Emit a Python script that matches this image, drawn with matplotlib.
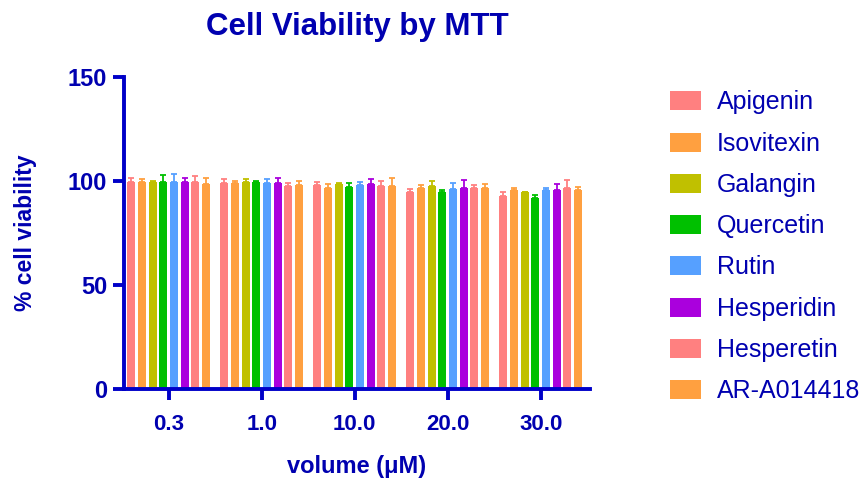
import matplotlib
matplotlib.use("Agg")
import matplotlib.pyplot as plt
import numpy as np

plt.rcParams['font.family'] = ['Liberation Sans', 'DejaVu Sans']

doses = ['0.3', '1.0', '10.0', '20.0', '30.0']
compounds = ['Apigenin', 'Isovitexin', 'Galangin', 'Quercetin',
             'Rutin', 'Hesperidin', 'Hesperetin', 'AR-A014418']
colors = ['#FF8080', '#FFA040', '#C0C000', '#00C000',
          '#56A0FF', '#AA00DD', '#FF8080', '#FFA040']

# mean viability per compound, one value per dose
means = [
    [99.7, 99.2, 97.9, 94.7, 92.9],   # Apigenin
    [99.6, 98.8, 96.6, 96.6, 95.5],   # Isovitexin
    [99.7, 99.4, 98.7, 97.6, 94.5],   # Galangin
    [99.7, 99.3, 97.1, 94.5, 91.6],   # Quercetin
    [99.7, 99.2, 98.1, 96.3, 95.5],   # Rutin
    [99.5, 98.9, 98.4, 96.8, 95.7],   # Hesperidin
    [99.5, 97.6, 97.6, 96.8, 96.8],   # Hesperetin
    [98.6, 97.9, 97.8, 96.6, 95.7],   # AR-A014418
]
errs = [
    [1.8, 1.6, 1.6, 1.4, 1.6],
    [1.6, 1.4, 1.8, 1.4, 1.0],
    [0.3, 1.4, 0.3, 2.4, 0.2],
    [3.4, 0.5, 1.8, 1.4, 1.9],
    [3.7, 1.6, 1.3, 2.6, 1.1],
    [1.8, 2.7, 2.6, 3.7, 2.9],
    [2.7, 1.3, 2.6, 1.4, 3.7],
    [2.7, 2.1, 3.7, 1.9, 1.4],
]

navy = '#0000B0'
axis_col = '#0000C8'

fig = plt.figure(figsize=(8.64, 4.79), dpi=100)
ax = fig.add_axes([124/864, 1-389/479, (590-124)/864, (389-77)/479])

x = np.arange(len(doses))
pitch = 0.115
width = 0.086
for i, name in enumerate(compounds):
    pos = x + (i - 3.5) * pitch
    ax.bar(pos, means[i], width, color=colors[i], label=name,
           edgecolor='none', zorder=2)
    ax.errorbar(pos, means[i], yerr=[np.zeros(len(doses)), errs[i]],
                fmt='none', ecolor=colors[i], elinewidth=1.3,
                capsize=2.5, capthick=1.3, zorder=3)

ax.set_xlim(-0.48, 4.53)
ax.set_ylim(0, 150)
ax.set_yticks([0, 50, 100, 150])
ax.set_xticks(x)
ax.set_xticklabels(doses)

for s in ['top', 'right']:
    ax.spines[s].set_visible(False)
for s in ['left', 'bottom']:
    ax.spines[s].set_color(axis_col)
    ax.spines[s].set_linewidth(2.8)
ax.tick_params(axis='both', colors=axis_col, width=2.8, length=8,
               labelcolor=navy, pad=4)
ax.tick_params(axis='y', labelsize=17)
ax.tick_params(axis='x', labelsize=16, pad=10)
for lab in ax.get_xticklabels() + ax.get_yticklabels():
    lab.set_fontweight('bold')

ax.set_ylabel('% cell viability', fontsize=16.5, fontweight='bold',
              color=navy, labelpad=22)
fig.text(357/864, 1-466/479, 'volume (\u03bcM)', fontsize=17,
         fontweight='bold', color=navy, ha='center', va='center')
fig.text(357/864, 1-27/479, 'Cell Viability by MTT', fontsize=22.5,
         fontweight='bold', color=navy, ha='center', va='center')

handles, labels = ax.get_legend_handles_labels()
leg = fig.legend(handles, labels, loc='upper left',
                 bbox_to_anchor=(647/864, 1-68/479), frameon=False,
                 fontsize=18, labelspacing=0.69, handlelength=1.25,
                 handleheight=0.8, handletextpad=0.65)
for t in leg.get_texts():
    t.set_color(navy)

fig.savefig('out.png', dpi=100)
